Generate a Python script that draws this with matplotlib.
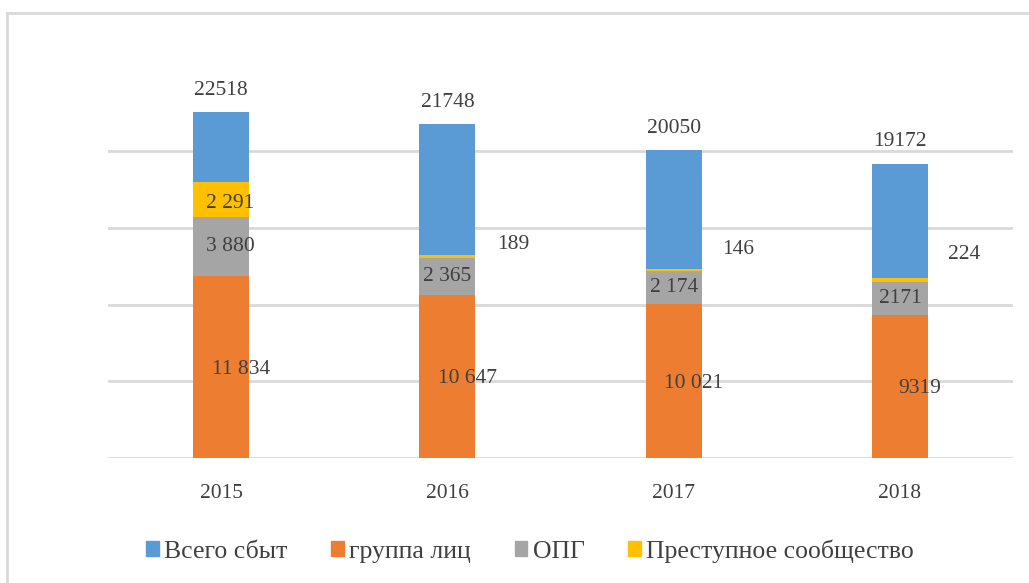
import matplotlib
matplotlib.use("Agg")
import matplotlib.pyplot as plt
from matplotlib.lines import Line2D
from matplotlib.patches import Patch

# ----------------------------------------------------------------------
# Data
# ----------------------------------------------------------------------
years = ["2015", "2016", "2017", "2018"]
total = [22518, 21748, 20050, 19172]          # Всего сбыт (top label)
group = [11834, 10647, 10021, 9319]           # группа лиц
opg = [3880, 2365, 2174, 2171]                # ОПГ
community = [2291, 189, 146, 224]             # Преступное сообщество

group_labels = ["11 834", "10 647", "10 021", "9319"]
opg_labels = ["3 880", "2 365", "2 174", "2171"]
community_labels = ["2 291", "189", "146", "224"]

legend_names = ["Всего сбыт", "группа лиц", "ОПГ", "Преступное сообщество"]

# ----------------------------------------------------------------------
# Style
# ----------------------------------------------------------------------
BLUE = "#5B9BD5"
ORANGE = "#ED7D31"
GRAY = "#A5A5A5"
YELLOW = "#FFC000"
TEXT = "#404040"
GRID = "#D9D9D9"

plt.rcParams["font.family"] = ["Liberation Serif", "DejaVu Serif"]

W, H = 1029, 583
fig = plt.figure(figsize=(W / 100, H / 100), dpi=100)

# axes placed in pixel terms: x 108..1013, y=0 at 458 px, 25000 at ~74 px
left, right = 108, 1013
y0, ytop = 458, 74.25
ax = fig.add_axes([left / W, (H - y0) / H, (right - left) / W, (y0 - ytop) / H])

x = list(range(len(years)))
width = 0.248

# remainder of total goes into blue segment
rest = [t - g - o - c for t, g, o, c in zip(total, group, opg, community)]
b1 = group
b2 = [g + o for g, o in zip(group, opg)]
b3 = [g + o + c for g, o, c in zip(group, opg, community)]

ax.bar(x, group, width, color=ORANGE, zorder=3)
ax.bar(x, opg, width, bottom=b1, color=GRAY, zorder=3)
ax.bar(x, community, width, bottom=b2, color=YELLOW, zorder=3)
ax.bar(x, rest, width, bottom=b3, color=BLUE, zorder=3)

ax.set_xlim(-0.5, 3.5)
ax.set_ylim(0, 25000)
ax.set_yticks([0, 5000, 10000, 15000, 20000])
ax.yaxis.grid(True, color=GRID, linewidth=2)
ax.set_axisbelow(True)
ax.tick_params(axis="y", left=False, labelleft=False)
ax.tick_params(axis="x", bottom=False, labelsize=15.5, labelcolor=TEXT, pad=15)
ax.set_xticks(x)
ax.set_xticklabels(years)
for s in ax.spines.values():
    s.set_visible(False)

PX = 0.72  # pixel -> point
fs = 15.5

# totals above bars
for i in x:
    ax.annotate(str(total[i]), (i, total[i]), xytext=(0, 22 * PX), textcoords="offset points",
                ha="center", va="center", fontsize=fs, color=TEXT)

# group labels
for i in x:
    ax.annotate(group_labels[i], (i, group[i] / 2), xytext=(20 * PX, -2 * PX), textcoords="offset points",
                ha="center", va="center", fontsize=fs, color=TEXT)

# OPG labels
opg_dx = [9, 0, 0, 0]
for i in x:
    ax.annotate(opg_labels[i], (i, b1[i] + opg[i] / 2), xytext=(opg_dx[i] * PX, 0), textcoords="offset points",
                ha="center", va="center", fontsize=fs, color=TEXT)

# community labels (inside for 2015, to the right for the rest)
comm_off = [(9, -4), (66, 12), (65, 20), (64, 25)]
for i in x:
    dx, dy = comm_off[i]
    ax.annotate(community_labels[i], (i, b2[i] + community[i] / 2), xytext=(dx * PX, dy * PX),
                textcoords="offset points", ha="center", va="center", fontsize=fs, color=TEXT)

# legend
handles = [Patch(color=c) for c in [BLUE, ORANGE, GRAY, YELLOW]]
fig.legend(handles, legend_names, loc="center", bbox_to_anchor=(530 / W, (H - 551) / H),
           ncol=4, frameon=False, fontsize=18.5, handlelength=0.5, handleheight=0.5,
           handletextpad=0.2, columnspacing=1.7, labelcolor=TEXT)

# chart area border (left and top visible)
fig.add_artist(Line2D([7 / W, 7 / W], [0, (H - 13) / H], color=GRID, linewidth=2))
fig.add_artist(Line2D([7 / W, 1], [(H - 13) / H, (H - 13) / H], color=GRID, linewidth=2))

fig.savefig("out.png", dpi=100)
